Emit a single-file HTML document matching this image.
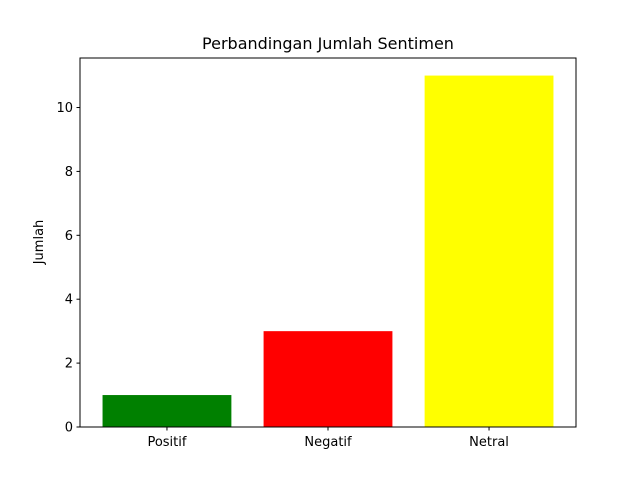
<!DOCTYPE html>
<html>
<head>
<meta charset="utf-8">
<style>
html,body{margin:0;padding:0;background:#fff;}
svg{display:block;font-family:"DejaVu Sans","Liberation Sans",sans-serif;}
</style>
</head>
<body>
<svg id="chart" width="640" height="480" viewBox="0 0 640 480">
<rect x="0" y="0" width="640" height="480" fill="#fff"/>
<text x="328" y="49" text-anchor="middle" font-size="16" fill="#000">Perbandingan Jumlah Sentimen</text>
<text transform="translate(43,242) rotate(-90)" text-anchor="middle" font-size="13" fill="#000">Jumlah</text>
<g id="bars"></g>
<g id="yticks"></g>
<g id="xticks"></g>
<rect x="80" y="58" width="496" height="369" fill="none" stroke="#000" stroke-width="1"/>
</svg>
<script>
const categories = ["Positif","Negatif","Netral"];
const values = [1,3,11];
const colors = ["green","red","yellow"];
const yTicks = [0,2,4,6,8,10];

const L=80,R=576,T=58,B=427;
const maxV=Math.max(...values);
const yMax=maxV*1.05;
const y=v=>B-(v/yMax)*(B-T);
const xMin=-0.54, xMax=categories.length-1+0.54;
const x=v=>L+(v-xMin)/(xMax-xMin)*(R-L);
const NS="http://www.w3.org/2000/svg";
const bars=document.getElementById('bars');
const yt=document.getElementById('yticks');
const xt=document.getElementById('xticks');

values.forEach((v,i)=>{
  const r=document.createElementNS(NS,'rect');
  const x0=x(i-0.4), x1=x(i+0.4);
  r.setAttribute('x',x0);r.setAttribute('width',x1-x0);
  r.setAttribute('y',y(v));r.setAttribute('height',B-y(v));
  r.setAttribute('fill',colors[i]);
  
  
  bars.appendChild(r);
  const tk=document.createElementNS(NS,'line');
  tk.setAttribute('x1',x(i));tk.setAttribute('x2',x(i));
  tk.setAttribute('y1',B);tk.setAttribute('y2',B+3.5);
  tk.setAttribute('stroke','#000');
  
  
  xt.appendChild(tk);
  const t=document.createElementNS(NS,'text');
  t.setAttribute('x',x(i));t.setAttribute('y',B+19);
  t.setAttribute('text-anchor','middle');t.setAttribute('font-size','13');
  t.textContent=categories[i];
  
  
  xt.appendChild(t);
});
yTicks.forEach(v=>{
  const tk=document.createElementNS(NS,'line');
  tk.setAttribute('x1',L-3.5);tk.setAttribute('x2',L);
  tk.setAttribute('y1',y(v));tk.setAttribute('y2',y(v));
  tk.setAttribute('stroke','#000');
  
  
  yt.appendChild(tk);
  const t=document.createElementNS(NS,'text');
  t.setAttribute('x',L-7);t.setAttribute('y',y(v)+4.5);
  t.setAttribute('text-anchor','end');t.setAttribute('font-size','13');
  t.textContent=v;
  
  
  yt.appendChild(t);
});
</script>
</body>
</html>
